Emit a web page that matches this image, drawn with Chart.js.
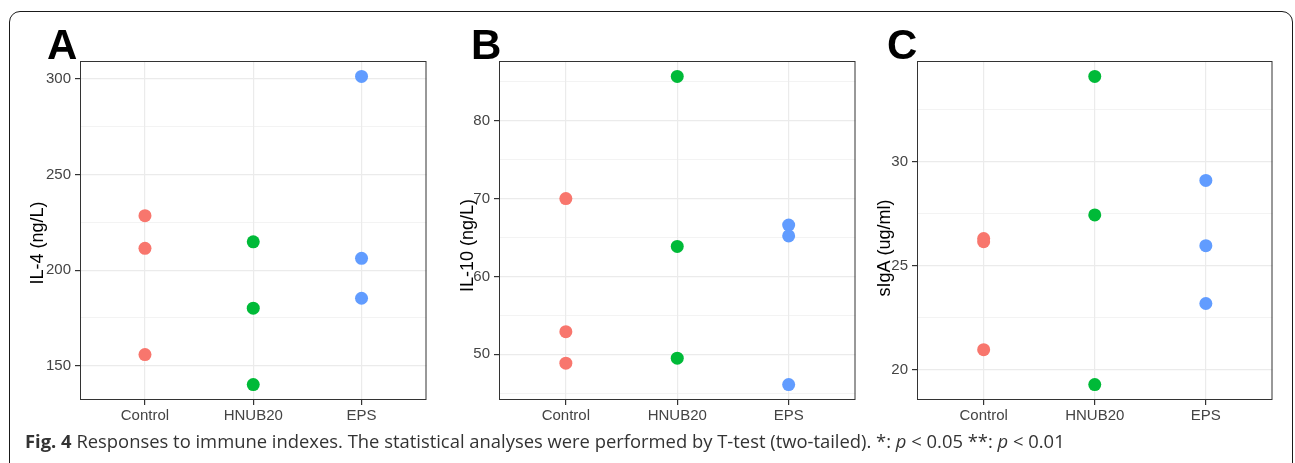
<!DOCTYPE html>
<html>
<head>
<meta charset="utf-8">
<script src="https://cdn.jsdelivr.net/npm/chart.js@4.4.1/dist/chart.umd.min.js"></script>
<style>
body { margin: 0; background: #fff; width: 1295px; height: 463px; overflow: hidden; position: relative; }
.frame { position: absolute; left: 9px; top: 11px; width: 1284px; height: 490px; border: 1.5px solid #1a1a1a; border-radius: 11px; box-sizing: border-box; }
.panel { position: absolute; top: 20px; height: 420px; }
.letter { position: absolute; top: 24px; font: bold 42px "Liberation Sans", Arial, sans-serif; line-height: 1; color: #000; }
.caption { position: absolute; left: 25px; top: 431px; font: 18.4px "Open Sans", sans-serif; line-height: 20px; color: #333; white-space: nowrap; }
</style>
</head>
<body>
<div class="frame"></div>
<canvas id="chartA" class="panel" width="418" height="420" style="left:15px"></canvas>
<canvas id="chartB" class="panel" width="417" height="420" style="left:445px"></canvas>
<canvas id="chartC" class="panel" width="409" height="420" style="left:870px"></canvas>
<div class="letter" style="left:47px">A</div>
<div class="letter" style="left:471px">B</div>
<div class="letter" style="left:887px">C</div>
<div class="caption"><b>Fig. 4</b> Responses to immune indexes. The statistical analyses were performed by T-test (two-tailed). *: <i>p</i> &lt; 0.05 **: <i>p</i> &lt; 0.01</div>

<script>
const categories = ['Control', 'HNUB20', 'EPS'];
const groupColors = ['#F8766D', '#00BA38', '#619CFF'];

// IL-4 (ng/L)
const il4Control = [228.5, 211.4, 155.8];
const il4Hnub20 = [214.8, 180.1, 140.1];
const il4Eps = [301.4, 206.2, 185.3];
const il4Ticks = [150, 200, 250, 300];

// IL-10 (ng/L)
const il10Control = [70.0, 52.9, 48.85];
const il10Hnub20 = [85.7, 63.85, 49.5];
const il10Eps = [66.6, 65.2, 46.1];
const il10Ticks = [50, 60, 70, 80];

// sIgA (ug/ml)
const sigaControl = [26.3, 26.15, 20.96];
const sigaHnub20 = [34.1, 27.44, 19.28];
const sigaEps = [29.1, 25.96, 23.18];
const sigaTicks = [20, 25, 30];

const panelBorder = {
    id: 'panelBorder',
    beforeDatasetsDraw(chart) {
        const a = chart.chartArea;
        const ctx = chart.ctx;
        ctx.save();
        ctx.strokeStyle = '#333';
        ctx.lineWidth = 1;
        ctx.strokeRect(a.left + 0.5, a.top + 0.5, a.right - a.left - 1, a.bottom - a.top - 1);
        ctx.restore();
    }
};

function makePanel(id, groups, majors, title, yWidth, titlePad, titleShift) {
    // ggplot style: 5% expansion of the data range
    const all = groups.flat();
    const lo = Math.min(...all), hi = Math.max(...all);
    const pad = (hi - lo) * 0.05;
    const minorStep = (majors[1] - majors[0]) / 2;
    const isMajor = v => majors.some(m => Math.abs(m - v) < 1e-6);

    const datasets = groups.map((vals, i) => ({
        data: vals.map(v => ({ x: i, y: v })),
        backgroundColor: groupColors[i],
        borderWidth: 0,
        pointRadius: 6.5,
        pointHoverRadius: 6.5
    }));

    return new Chart(document.getElementById(id), {
        type: 'scatter',
        data: { datasets },
        options: {
            responsive: false,
            animation: false,
            layout: { padding: { top: 41, right: 5, left: 0, bottom: 0 } },
            plugins: { legend: { display: false }, tooltip: { enabled: false } },
            scales: {
                x: {
                    type: 'linear',
                    min: -0.6,
                    max: 2.6,
                    afterBuildTicks: axis => { axis.ticks = categories.map((c, i) => ({ value: i })); },
                    afterFit: axis => { axis.height = 40; },
                    border: { display: false },
                    grid: { color: '#ebebeb', lineWidth: 1.2, tickColor: '#333', tickLength: 5 },
                    ticks: {
                        autoSkip: false,
                        maxRotation: 0,
                        padding: 2,
                        color: '#444',
                        font: { family: 'Liberation Sans', size: 15 },
                        callback: v => categories[v]
                    }
                },
                y: {
                    min: lo - pad,
                    max: hi + pad,
                    afterFit: axis => { axis.width = yWidth; },
                    border: { display: false },
                    grid: {
                        color: '#ebebeb',
                        lineWidth: ctx => isMajor(ctx.tick.value) ? 1.2 : 0.6,
                        tickColor: ctx => isMajor(ctx.tick.value) ? '#333' : 'rgba(0,0,0,0)',
                        tickLength: 5
                    },
                    ticks: {
                        stepSize: minorStep,
                        includeBounds: false,
                        padding: 4,
                        color: '#444',
                        font: { family: 'Liberation Sans', size: 15 },
                        callback: v => isMajor(v) ? v : ''
                    },
                    title: {
                        display: true,
                        // trailing spaces push the title down a little, as in the original figure
                        text: title + '\u00a0'.repeat(titleShift),
                        color: '#000',
                        font: { family: 'Liberation Sans', size: 18 },
                        padding: { top: titlePad, bottom: 0 }
                    }
                }
            }
        },
        plugins: [panelBorder]
    });
}

makePanel('chartA', [il4Control, il4Hnub20, il4Eps], il4Ticks, 'IL-4 (ng/L)', 65, 12, 5);
makePanel('chartB', [il10Control, il10Hnub20, il10Eps], il10Ticks, 'IL-10 (ng/L)', 54, 12, 6);
makePanel('chartC', [sigaControl, sigaHnub20, sigaEps], sigaTicks, 'sIgA (ug/ml)', 47, 4, 7);
</script>
</body>
</html>
